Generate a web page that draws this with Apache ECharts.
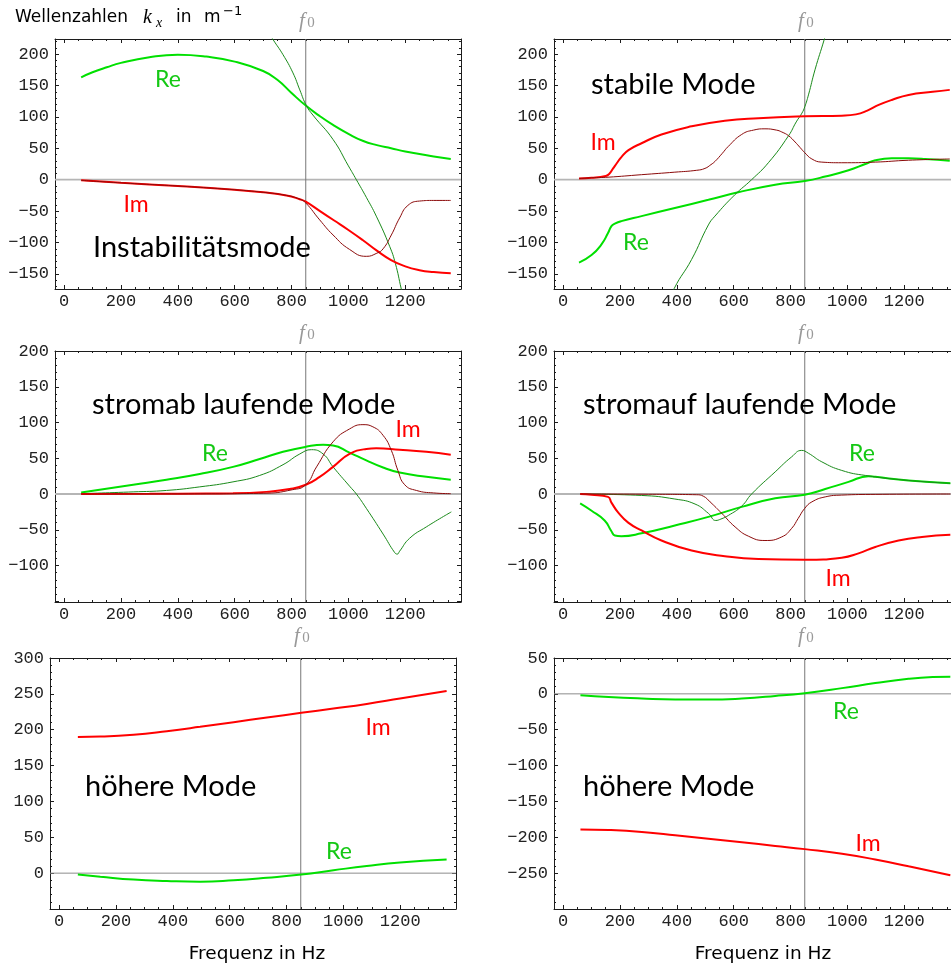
<!DOCTYPE html>
<html>
<head>
<meta charset="utf-8">
<script src="https://cdn.jsdelivr.net/npm/echarts@6/dist/echarts.min.js"></script>
<style>
html,body{margin:0;padding:0;background:#fff}
#c{width:951px;height:968px}
</style>
</head>
<body>
<div id="c"></div>
<script>
// Frequency axis (Hz) and the reference frequency f0
const xTicks = [0, 200, 400, 600, 800, 1000, 1200];
const XMIN = -32, XMAX = 1396;
const F0 = 850;

// Wave number tick labels per panel (1/m)
const yTicksA = [-150, -100, -50, 0, 50, 100, 150, 200];
const yTicksB = [-100, -50, 0, 50, 100, 150, 200];
const yTicksC = [0, 50, 100, 150, 200, 250, 300];
const yTicksD = [-250, -200, -150, -100, -50, 0, 50];

// Instabilitätsmode: [f in Hz, k_x in 1/m]
const instRe    = [[60,163],[100,171],[150,179],[200,186],[300,195],[400,199],[500,196],[600,188],[700,173],[750,159],[800,138],[850,118],[900,101],[950,86],[1000,73],[1050,62],[1100,55],[1150,50],[1200,45],[1250,41],[1300,37],[1360,33]];
const instReAlt = [[680,262],[735,223],[770,199],[805,170],[829,143],[852,118],[875,103],[946,64],[1000,22],[1028,0],[1063,-28],[1098,-58],[1145,-106],[1165,-133],[1186,-174],[1200,-200]];
const instIm    = [[60,-1],[200,-5],[400,-10],[600,-16],[700,-20],[782,-25],[829,-31],[850,-35],[900,-50],[950,-65],[1000,-80],[1050,-96],[1100,-113],[1150,-128],[1200,-138],[1250,-144],[1300,-147],[1360,-149]];
const instImAlt = [[60,-1],[200,-5],[400,-10],[600,-16],[700,-20],[782,-25],[829,-31],[850,-37],[899,-64],[946,-88],[1004,-111],[1063,-122],[1100,-117],[1122,-110],[1151,-88],[1180,-61],[1209,-41],[1250,-34],[1300,-33],[1360,-33]];

// stabile Mode
const stabRe    = [[56,-132],[100,-120],[135,-103],[158,-85],[170,-74],[182,-70],[205,-66],[276,-58],[393,-45],[511,-32],[616,-20],[746,-8],[850,-2],[922,5],[1004,15],[1063,25],[1098,31],[1156,34],[1215,34],[1274,33],[1360,30]];
const stabReAlt = [[370,-200],[391,-173],[452,-127],[511,-72],[534,-58],[604,-24],[663,0],[722,27],[793,70],[820,92],[840,106],[850,116],[863,135],[886,175],[919,224],[935,250]];
const stabIm    = [[56,2],[100,3],[150,6],[162,9],[176,18],[190,27],[205,36],[230,47],[276,58],[346,72],[452,85],[569,94],[687,98],[850,101],[980,102],[1030,104],[1070,110],[1110,119],[1156,127],[1215,135],[1300,140],[1360,143]];
const stabImAlt = [[56,2],[100,3],[158,4],[276,8],[393,12],[470,15],[499,18],[520,24],[534,29],[560,42],[581,53],[628,72],[670,79],[710,81],[750,79],[769,76],[793,70],[816,60],[834,51],[850,43],[875,33],[910,28],[980,27],[1098,28],[1215,31],[1360,33]];

// stromab laufende Mode
const downRe    = [[60,2],[243,13],[360,20],[477,28],[594,38],[688,49],[770,59],[850,66],[911,69],[946,68],[1004,58],[1063,47],[1122,37],[1180,30],[1274,24],[1360,20]];
const downReAlt = [[60,0.5],[243,3],[360,5],[477,10],[594,17],[688,26],[770,41],[829,56],[870,62],[911,56],[946,38],[1004,11],[1028,0],[1063,-20],[1122,-56],[1163,-82],[1172,-84],[1180,-80],[1215,-62],[1274,-46],[1362,-25]];
const downIm    = [[60,0],[300,0.3],[500,0.8],[594,1],[711,3],[793,7],[850,13],[899,24],[946,38],[1004,56],[1063,63],[1098,64],[1180,62],[1274,59],[1360,55]];
const downImAlt = [[60,0],[500,0.3],[700,1],[803,6],[850,13],[888,38],[946,73],[1004,91],[1051,97],[1086,94],[1122,82],[1151,61],[1174,33],[1198,13],[1239,5],[1300,1.5],[1360,0.5]];

// stromauf laufende Mode
const upRe      = [[60,-13],[99,-23],[146,-37],[170,-52],[182,-58],[205,-59],[276,-55],[393,-44],[511,-32],[628,-18],[746,-6],[850,-1],[922,7],[1004,17],[1074,25],[1098,24],[1215,19],[1362,15]];
const upReAlt   = [[60,0],[276,-2],[393,-7],[464,-14],[511,-27],[537,-37],[555,-35],[581,-30],[628,-17],[663,0],[746,31],[804,52],[839,61],[863,57],[910,45],[980,33],[1063,26],[1215,19],[1362,15]];
const upIm      = [[60,0],[100,-1],[158,-4],[170,-12],[194,-26],[229,-40],[276,-51],[346,-65],[452,-79],[569,-87],[687,-91],[850,-92],[980,-89],[1039,-83],[1098,-74],[1180,-65],[1262,-60],[1362,-57]];
const upImAlt   = [[60,0],[300,-0.3],[470,-1],[493,-3],[517,-11],[558,-27],[605,-46],[652,-59],[710,-65],[769,-60],[804,-48],[827,-34],[850,-20],[875,-11],[922,-4],[980,-1.5],[1100,-0.5],[1362,0]];

// höhere Moden
const highRe1 = [[66,-2],[145,-5],[262,-9],[379,-11],[496,-12],[614,-10],[731,-6.5],[852,-2],[965,4],[1082,10],[1199,15],[1363,19]];
const highIm1 = [[66,190],[145,190.5],[262,193],[379,198],[496,204],[614,210.5],[731,217],[852,223.5],[965,229.5],[1082,236],[1199,243.5],[1363,254]];
const highRe2 = [[61,-2],[160,-4.5],[277,-6.5],[394,-7.8],[511,-8],[629,-6.5],[746,-3],[850,1],[981,8],[1098,15],[1215,21],[1300,23.5],[1362,24]];
const highIm2 = [[61,-189],[160,-189.8],[277,-192.5],[394,-197],[511,-202],[629,-207],[746,-212],[850,-216.5],[981,-223],[1098,-231],[1215,-240.5],[1362,-253]];

// ---- styling ----
const FRAME = '#1c1c1c';
const LINE = {
  re:    { color: '#00e000', width: 2 },
  reAlt: { color: '#1a8a1a', width: 1 },
  im:    { color: '#ff0000', width: 2 },
  imAlt: { color: '#8b0a0a', width: 1 }
};
const SANS = 'Lato';
const WIDE = '"DejaVu Sans"';
const tickLabel = { fontFamily: 'Liberation Mono', fontSize: 17, color: '#222' };

const panels = [
  { left: 55,  top: 39,  height: 250, yMin: -174, yMax: 224, yLabels: yTicksA, zero: 'soft',
    curves: [[instRe,'re'],[instReAlt,'reAlt'],[instIm,'im'],[instImAlt,'imAlt']] },
  { left: 554, top: 39,  height: 250, yMin: -174, yMax: 224, yLabels: yTicksA, zero: 'soft',
    curves: [[stabRe,'re'],[stabReAlt,'reAlt'],[stabIm,'im'],[stabImAlt,'imAlt']] },
  { left: 55,  top: 351, height: 251, yMin: -151, yMax: 200, yLabels: yTicksB, zero: 'soft',
    curves: [[downRe,'re'],[downReAlt,'reAlt'],[downIm,'im'],[downImAlt,'imAlt']] },
  { left: 554, top: 351, height: 251, yMin: -151, yMax: 200, yLabels: yTicksB, zero: 'soft',
    curves: [[upRe,'re'],[upReAlt,'reAlt'],[upIm,'im'],[upImAlt,'imAlt']] },
  { left: 50,  top: 658, height: 251, yMin: -50,  yMax: 300, yLabels: yTicksC, zero: 'thin',
    curves: [[highRe1,'re'],[highIm1,'im']] },
  { left: 554, top: 658, height: 251, yMin: -300, yMax: 50,  yLabels: yTicksD, zero: 'thin',
    curves: [[highRe2,'re'],[highIm2,'im']] }
];

function fmt(v) { return v < 0 ? '\u2212' + (-v) : String(v); }
function steps(step, lo, hi) {
  const out = [];
  for (let v = Math.ceil(lo / step) * step; v <= hi + 1e-9; v += step) out.push(v);
  return out;
}
function frameAxis(gi, pos, min, max, ticks, len, labels, showLine, margin) {
  return {
    gridIndex: gi, type: 'value', position: pos, min: min, max: max,
    axisLine: { show: showLine, onZero: false, lineStyle: { color: FRAME, width: 1 } },
    axisTick: { show: true, inside: true, length: len, customValues: ticks, lineStyle: { color: FRAME, width: 1 } },
    axisLabel: labels ? Object.assign({ show: true, customValues: labels, formatter: fmt, margin: margin }, tickLabel) : { show: false },
    splitLine: { show: false }, minorTick: { show: false }, minorSplitLine: { show: false },
    axisPointer: { show: false }, silent: true
  };
}

const grids = [], xAxes = [], yAxes = [], series = [];
panels.forEach((p, gi) => {
  grids.push({ left: p.left, top: p.top, width: 406, height: p.height, containLabel: false, outerBoundsMode: 'none' });
  const xMajor = steps(200, XMIN, XMAX);
  const xMinor = steps(50, XMIN, XMAX).filter(v => v % 200 !== 0);
  const yMajor = steps(50, p.yMin, p.yMax);
  const yMinor = steps(10, p.yMin, p.yMax).filter(v => v % 50 !== 0);
  // bottom and top frame
  xAxes.push(frameAxis(gi, 'bottom', XMIN, XMAX, xMajor, 4, xTicks, true, 4));
  xAxes.push(frameAxis(gi, 'bottom', XMIN, XMAX, xMinor, 2, null, false));
  xAxes.push(frameAxis(gi, 'top', XMIN, XMAX, xMajor, 4, null, true));
  xAxes.push(frameAxis(gi, 'top', XMIN, XMAX, xMinor, 2, null, false));
  // left and right frame
  yAxes.push(frameAxis(gi, 'left', p.yMin, p.yMax, yMajor, 4, p.yLabels, true, 6));
  yAxes.push(frameAxis(gi, 'left', p.yMin, p.yMax, yMinor, 2, null, false));
  yAxes.push(frameAxis(gi, 'right', p.yMin, p.yMax, yMajor, 4, null, true));
  yAxes.push(frameAxis(gi, 'right', p.yMin, p.yMax, yMinor, 2, null, false));

  const ax = { xAxisIndex: gi * 4, yAxisIndex: gi * 4 };
  const base = Object.assign({ type: 'line', symbol: 'none', showSymbol: false, silent: true, animation: false, clip: true }, ax);
  // k_x = 0 reference
  series.push(Object.assign({}, base, {
    data: [[XMIN, 0], [XMAX, 0]],
    lineStyle: p.zero === 'soft' ? { color: '#b5b5b5', width: 1.8 } : { color: '#8c8c8c', width: 1 }
  }));
  // f0 marker
  series.push(Object.assign({}, base, {
    data: [[F0, p.yMin], [F0, p.yMax]],
    lineStyle: { color: '#777', width: 1 }
  }));
  p.curves.forEach(([data, kind]) => {
    series.push(Object.assign({}, base, {
      data: data, smooth: 0.5,
      lineStyle: { color: LINE[kind].color, width: LINE[kind].width }
    }));
  });
});

// ---- annotations ----
const graphics = [];
function txt(x, y, text, font, fill, align) {
  graphics.push({ type: 'text', x: x, y: y, silent: true, z: 100,
    style: { text: text, font: font, fill: fill, align: align || 'left', verticalAlign: 'middle' } });
}
// header
txt(15, 18, 'Wellenzahlen', '17px ' + WIDE, '#000');
txt(143, 18, 'k', 'italic 20px "Liberation Serif"', '#000');
txt(156, 23, 'x', 'italic 14px "Liberation Serif"', '#000');
txt(176, 18, 'in', '17px ' + WIDE, '#000');
txt(204, 18, 'm', '17px ' + WIDE, '#000');
txt(223, 12, '\u22121', '13px ' + WIDE, '#000');

// f0 markers above each panel
[[302, 21], [801, 21], [302, 333], [801, 333], [297, 636], [801, 636]].forEach(([x, y]) => {
  txt(x, y, 'f', 'italic 21px "Liberation Serif"', '#999', 'center');
  txt(x + 9, y + 2, '0', '15px "Liberation Serif"', '#999', 'center');
});

const GREEN_TXT = '#14c814', RED_TXT = '#ff0000';
const bigFont = '29px ' + SANS, smallFont = '23px ' + SANS;
// Instabilitätsmode
txt(168, 80, 'Re', smallFont, GREEN_TXT, 'center');
txt(136, 205, 'Im', smallFont, RED_TXT, 'center');
txt(93, 248, 'Instabilitätsmode', bigFont, '#000');
// stabile Mode
txt(591, 85, 'stabile Mode', bigFont, '#000');
txt(603, 143, 'Im', smallFont, RED_TXT, 'center');
txt(636, 243, 'Re', smallFont, GREEN_TXT, 'center');
// stromab
txt(92, 405, 'stromab laufende Mode', bigFont, '#000');
txt(215, 454, 'Re', smallFont, GREEN_TXT, 'center');
txt(408, 430, 'Im', smallFont, RED_TXT, 'center');
// stromauf
txt(583, 405, 'stromauf laufende Mode', bigFont, '#000');
txt(862, 454, 'Re', smallFont, GREEN_TXT, 'center');
txt(838, 579, 'Im', smallFont, RED_TXT, 'center');
// höhere Moden
txt(85, 787, 'höhere Mode', bigFont, '#000');
txt(378, 728, 'Im', smallFont, RED_TXT, 'center');
txt(339, 852, 'Re', smallFont, GREEN_TXT, 'center');
txt(583, 787, 'höhere Mode', bigFont, '#000');
txt(846, 712, 'Re', smallFont, GREEN_TXT, 'center');
txt(868, 844, 'Im', smallFont, RED_TXT, 'center');
// frequency axis titles
txt(257, 954, 'Frequenz in Hz', '18.5px ' + WIDE, '#000', 'center');
txt(763, 954, 'Frequenz in Hz', '18.5px ' + WIDE, '#000', 'center');

const chart = echarts.init(document.getElementById('c'), null, { renderer: 'canvas' });
chart.setOption({
  animation: false,
  backgroundColor: '#fff',
  grid: grids,
  xAxis: xAxes,
  yAxis: yAxes,
  series: series,
  graphic: graphics
});
</script>
</body>
</html>
